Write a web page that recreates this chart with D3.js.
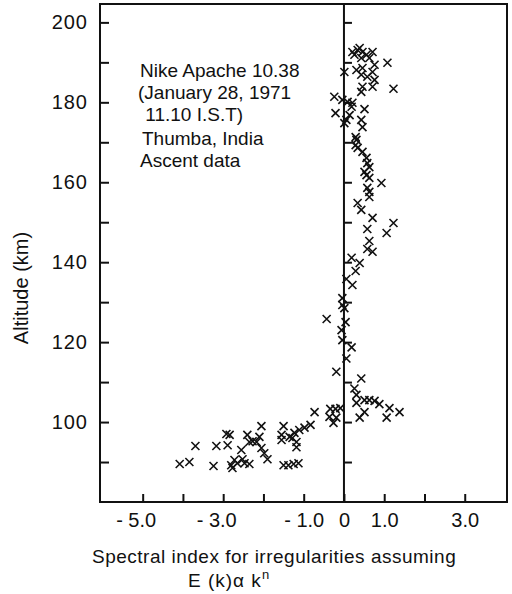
<!DOCTYPE html>
<html>
<head>
<meta charset="utf-8">
<script src="https://cdn.jsdelivr.net/npm/d3@7"></script>
<style>
body { margin: 0; background: #fff; }
text { font-family: "Liberation Sans", Arial, sans-serif; fill: #111; }
</style>
</head>
<body>
<svg width="512" height="594"></svg>
<script>
// spectral index n (x) and altitude in km (y)
var spectralIndex = [
  0.21, 0.34, 0.46, 0.39, 0.26, 0.56, 0.71, 0.43, 0.63, 0.76, 1.08, 0.01, 0.31, 0.46, 0.43, 0.58,
  0.71, 0.76, 0.46, 0.43, 0.71, 1.23, -0.24, -0.04, 0.09, 0.21, 0.19, -0.21, 0.14, 0.51, 0.06, 0.43,
  0.01, 0.46, 0.29, 0.31, 0.29, 0.34, 0.46, 0.56, 0.58, 0.63, 0.51, 0.56, 0.63, 0.93, 0.58, 0.63,
  0.63, 0.34, 0.43, 0.71, 1.23, 0.58, 1.06, 0.63, 0.58, 0.71, 0.19, 0.39, 0.29, 0.06, 0.21, -0.04,
  -0.04, 0.01, -0.43, 0.04, -0.06, -0.04, 0.19, 0.06, -0.19, 0.43, 0.26, 0.31, 0.51, 0.63, 0.76, 0.88,
  0.31, 1.13, 1.38, 1.06, 0.51, 0.39, -0.73, -0.34, -0.21, -0.09, -0.36, -0.19, -0.26, -0.83, -0.98, -1.11,
  -1.23, -1.18, -1.28, -1.18, -1.35, -1.50, -1.55, -1.55, -2.05, -2.10, -2.17, -2.05, -1.98, -1.90, -1.50, -1.38,
  -1.25, -1.13, -2.40, -2.35, -2.55, -2.84, -2.89, -2.52, -2.65, -2.80, -2.47, -2.35, -2.72, -2.92, -3.17, -3.24,
  -3.69, -3.84, -4.08, -2.77, -2.27
]
var altitude = [
  192.6, 193.1, 192.6, 193.6, 191.9, 191.9, 192.6, 191.1, 191.1, 189.4, 189.9, 187.6, 188.1, 188.6, 186.9, 186.4,
  187.6, 185.6, 183.9, 182.6, 183.9, 183.4, 181.4, 180.6, 180.1, 179.9, 178.9, 177.3, 176.8, 178.3, 175.6, 175.6,
  174.8, 173.8, 171.3, 170.6, 169.3, 168.6, 167.6, 166.1, 164.8, 163.8, 162.6, 161.8, 161.1, 159.8, 158.6, 157.6,
  156.3, 154.8, 153.1, 151.1, 149.8, 148.3, 147.3, 145.3, 143.3, 142.6, 141.1, 139.8, 137.8, 135.8, 134.3, 131.0,
  129.3, 128.5, 125.8, 125.0, 123.0, 120.5, 118.7, 115.9, 112.6, 110.9, 108.4, 106.8, 105.5, 105.5, 105.3, 104.5,
  104.8, 103.5, 102.5, 101.1, 102.5, 101.1, 102.5, 103.3, 103.3, 103.5, 101.3, 101.1, 99.8, 99.3, 98.6, 98.0,
  97.3, 95.0, 96.0, 93.7, 96.3, 99.0, 96.8, 95.5, 99.0, 96.3, 95.0, 93.5, 92.2, 90.7, 89.2, 89.2,
  89.5, 89.7, 96.8, 95.0, 93.0, 96.8, 94.2, 90.7, 89.7, 89.2, 89.7, 89.5, 90.5, 97.0, 94.0, 89.0,
  94.0, 90.0, 89.5, 88.5, 95.2
]

var xTickValues = [-5, -4, -3, -2, -1, 0, 1, 2, 3]
var xTickLabels = {"-5": "- 5.0", "-3": "- 3.0", "-1": "- 1.0", "0": "0", "1": "1.0", "3": "3.0"}
var yTickValues = [90, 100, 110, 120, 130, 140, 150, 160, 170, 180, 190, 200]
var yTickLabels = [100, 120, 140, 160, 180, 200]

var noteLines = ["Nike Apache 10.38", "(January 28, 1971", " 11.10 I.S.T)", "Thumba, India", "Ascent data"]
var xTitle = "Spectral index for irregularities assuming"
var yTitle = "Altitude (km)"

var svg = d3.select('svg'),
    plotL = 100, plotR = 507, plotT = 4, plotB = 502

var x = d3.scaleLinear().domain([-6.06, 4.05]).range([plotL, plotR])
var y = d3.scaleLinear().domain([80, 204.6]).range([plotB, plotT])

// frame
svg.append('rect')
    .attr('x', plotL).attr('y', plotT)
    .attr('width', plotR - plotL).attr('height', plotB - plotT)
    .attr('fill', 'none').attr('stroke', '#111').attr('stroke-width', 2)

// left axis, ticks pointing in
var yAxis = svg.append('g')
    .attr('transform', 'translate(' + plotL + ',0)')
    .call(d3.axisLeft(y).tickValues(yTickValues).tickSizeInner(-9).tickSizeOuter(0).tickPadding(12)
        .tickFormat(function(d) { return yTickLabels.indexOf(d) >= 0 ? d : '' }))
yAxis.select('.domain').remove()
yAxis.selectAll('line').attr('stroke', '#111').attr('stroke-width', 2)
yAxis.selectAll('text').style('font-size', '20px').style('letter-spacing', '1px').attr('fill', '#111')

// bottom axis
var xAxis = svg.append('g')
    .attr('transform', 'translate(0,' + plotB + ')')
    .call(d3.axisBottom(x).tickValues(xTickValues).tickSizeInner(-8).tickSizeOuter(0).tickPadding(11)
        .tickFormat(function(d) { return xTickLabels[d] || '' }))
xAxis.select('.domain').remove()
xAxis.selectAll('line').attr('stroke', '#111').attr('stroke-width', 2)
xAxis.selectAll('text').style('font-size', '20px').attr('fill', '#111')
    .attr('dx', function(d) { return d < -1 ? -7 : 0 })

// zero line with its own ticks
var zeroAxis = svg.append('g')
    .attr('transform', 'translate(' + x(0) + ',0)')
    .call(d3.axisRight(y).tickValues(yTickValues).tickSizeInner(8).tickSizeOuter(0).tickFormat(''))
zeroAxis.select('.domain').remove()
zeroAxis.selectAll('line').attr('stroke', '#111').attr('stroke-width', 2)
svg.append('line')
    .attr('x1', x(0)).attr('x2', x(0)).attr('y1', plotT).attr('y2', plotB)
    .attr('stroke', '#111').attr('stroke-width', 2)

// crosses
svg.append('g').selectAll('path')
    .data(spectralIndex)
    .enter().append('path')
    .attr('transform', function(d, i) { return 'translate(' + x(d) + ',' + y(altitude[i]) + ')' })
    .attr('d', 'M-4,-4L4,4M-4,4L4,-4')
    .attr('stroke', '#111')
    .attr('stroke-width', 1.6)
    .attr('fill', 'none')

// note block
var noteY = [77, 99, 121, 145, 167]
var noteX = [140, 138, 140, 142, 140]
svg.append('g').selectAll('text')
    .data(noteLines)
    .enter().append('text')
    .attr('x', function(d, i) { return noteX[i] })
    .attr('y', function(d, i) { return noteY[i] })
    .style('font-size', '19px')
    .attr('xml:space', 'preserve')
    .text(function(d) { return d })

// axis titles
svg.append('text')
    .attr('transform', 'translate(28,288) rotate(-90)')
    .attr('text-anchor', 'middle')
    .style('font-size', '20px')
    .text(yTitle)

svg.append('text')
    .attr('x', 92).attr('y', 563)
    .style('font-size', '19px')
    .style('letter-spacing', '0.5px')
    .text(xTitle)

var eq = svg.append('text')
    .attr('x', 188).attr('y', 587)
    .style('font-size', '19px')
    .style('letter-spacing', '1px')
eq.append('tspan').text('E (k)\u03b1 k')
eq.append('tspan').attr('dy', -8).style('font-size', '13px').text('n')
</script>
</body>
</html>
